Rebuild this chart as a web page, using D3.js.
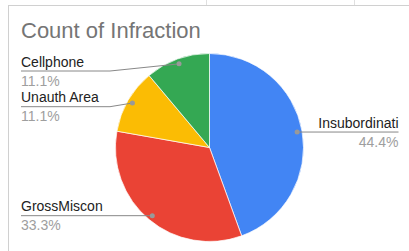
<!DOCTYPE html>
<html lang="en">
<head>
<meta charset="UTF-8">
<title>Count of Infraction</title>
<script src="https://d3js.org/d3.v7.min.js"></script>
<style>
  body { margin: 0; background: #fff; }
  text { font-family: "Liberation Sans", Arial, sans-serif; }
</style>
</head>
<body>
<div id="chart"></div>
<script>
var categories = ["Insubordinati", "GrossMiscon", "Unauth Area", "Cellphone"];
var counts = [4, 3, 1, 1];
var colors = ["#4285f4", "#ea4335", "#fbbc04", "#34a853"];

var width = 409, height = 251;
var cx = 209.5, cy = 147.5, radius = 94;

var svg = d3.select("#chart").append("svg")
    .attr("width", width)
    .attr("height", height);

// frame lines from the sheet
svg.append("line").attr("x1", 8).attr("x2", width).attr("y1", 5.5).attr("y2", 5.5)
    .attr("stroke", "#d0d0d0");
svg.append("line").attr("x1", 8.5).attr("x2", 8.5).attr("y1", 5).attr("y2", height)
    .attr("stroke", "#d0d0d0");
[206.5, 354.5].forEach(function(x) {
    svg.append("line").attr("x1", x).attr("x2", x).attr("y1", 0).attr("y2", 5)
        .attr("stroke", "#e0e0e0");
});

svg.append("text")
    .attr("x", 21)
    .attr("y", 38)
    .attr("font-size", 22)
    .attr("fill", "#757575")
    .text("Count of Infraction");

var data = categories.map(function(c, i) { return {name: c, value: counts[i], color: colors[i]}; });
var total = d3.sum(counts);
var pct = d3.format(".1%");

var pie = d3.pie().sort(null).value(function(d) { return d.value; });
var arcs = pie(data);
var arc = d3.arc().innerRadius(0).outerRadius(radius);
var dotArc = d3.arc().innerRadius(radius - 5).outerRadius(radius - 5);

var g = svg.append("g").attr("transform", "translate(" + cx + "," + cy + ")");
g.selectAll("path")
    .data(arcs)
    .enter().append("path")
    .attr("d", arc)
    .attr("fill", function(d) { return d.data.color; })
    .attr("stroke", "#fff")
    .attr("stroke-width", 0.7);

// label layout: left side stacks downward, keep clear of title
var minY = 71, gap = 35.7;
var lefts = [], rights = [];
arcs.forEach(function(d) {
    var c = dotArc.centroid(d);
    d.dot = [cx + c[0], cy + c[1]];
    d.side = c[0] < 0 ? "left" : "right";
    (d.side === "left" ? lefts : rights).push(d);
});
lefts.sort(function(a, b) { return a.dot[1] - b.dot[1]; });
var prev = -Infinity;
lefts.forEach(function(d) {
    d.ly = Math.max(d.dot[1], prev + gap, minY);
    prev = d.ly;
});
prev = -Infinity;
rights.sort(function(a, b) { return a.dot[1] - b.dot[1]; });
rights.forEach(function(d) {
    d.ly = Math.max(d.dot[1], prev + gap, minY);
    prev = d.ly;
});

arcs.forEach(function(d) {
    var left = d.side === "left";
    var tx = left ? 21 : 398.5;
    var elbow = left ? 110 : 308;
    var pts = [[tx, d.ly], [elbow, d.ly], d.dot];
    svg.append("path")
        .attr("d", d3.line()(pts))
        .attr("fill", "none")
        .attr("stroke", "#888")
        .attr("stroke-width", 1);
    svg.append("circle")
        .attr("cx", d.dot[0]).attr("cy", d.dot[1]).attr("r", 2.5)
        .attr("fill", "#999");
    svg.append("text")
        .attr("x", tx).attr("y", d.ly - 4.5)
        .attr("text-anchor", left ? "start" : "end")
        .attr("font-size", 14)
        .attr("fill", "#222")
        .text(d.data.name);
    svg.append("text")
        .attr("x", tx).attr("y", d.ly + 14.5)
        .attr("text-anchor", left ? "start" : "end")
        .attr("font-size", 14)
        .attr("fill", "#9e9e9e")
        .text(pct(d.data.value / total));
});
</script>
</body>
</html>
